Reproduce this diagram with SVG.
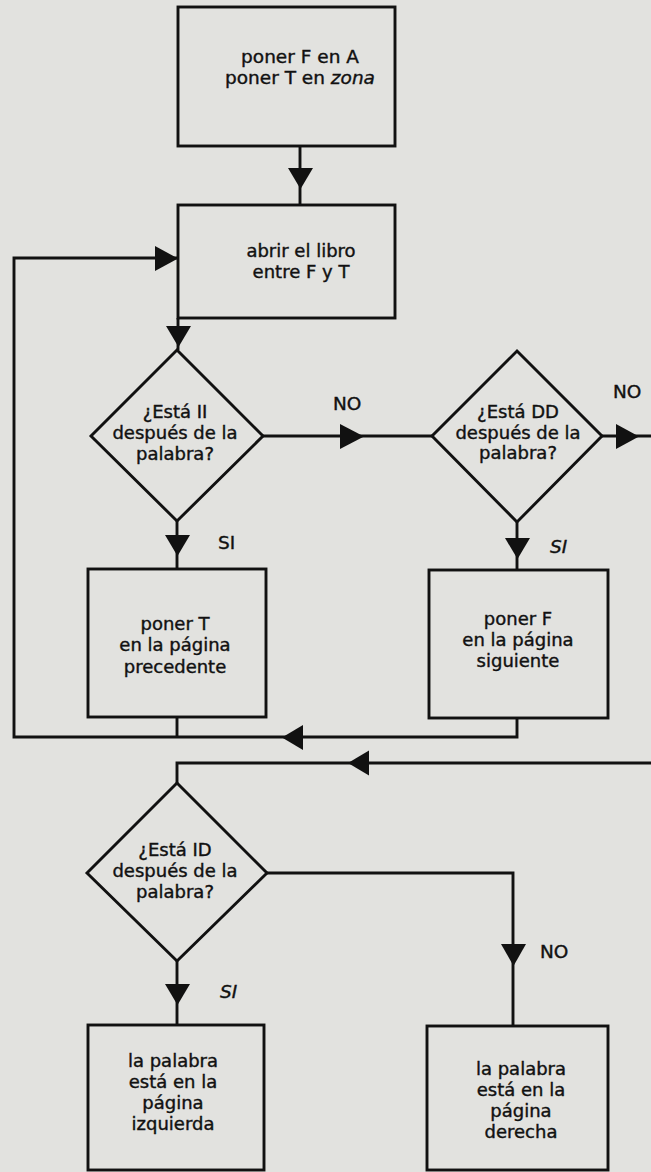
<svg xmlns="http://www.w3.org/2000/svg" width="651" height="1172" viewBox="0 0 651 1172">
<style>
.bg{fill:#e2e2df}
.shape{fill:none;stroke:#111;stroke-width:2.9;stroke-linejoin:miter}
.ln{fill:none;stroke:#111;stroke-width:2.9}
.ah{fill:#111;stroke:none}
text{font-family:"DejaVu Sans","Liberation Sans",sans-serif;fill:#111;stroke:#111;stroke-width:0.4;text-anchor:middle}
.t{font-size:18px}
.t1{font-size:18.5px}
.lbl{font-size:18.5px;text-anchor:start}
.it{font-style:italic}
</style>
<rect class="bg" x="0" y="0" width="651" height="1172"/>

<g id="connectors">
  <line class="ln" x1="300" y1="146" x2="300" y2="205"/>
  <polygon class="ah" points="288,168 313,168 300.5,189"/>
  <line class="ln" x1="178" y1="318" x2="178" y2="350"/>
  <polygon class="ah" points="166,326 191,326 178.5,347"/>
  <line class="ln" x1="262" y1="436" x2="432" y2="436"/>
  <polygon class="ah" points="340,424 340,449 364,436.5"/>
  <line class="ln" x1="602" y1="436" x2="651" y2="436"/>
  <polygon class="ah" points="616,424 616,449 639,436.5"/>
  <line class="ln" x1="177" y1="521" x2="177" y2="569"/>
  <polygon class="ah" points="165,535 190,535 177.5,556"/>
  <line class="ln" x1="517" y1="522" x2="517" y2="570"/>
  <polygon class="ah" points="505,538 530,538 517.5,559"/>
  <polyline class="ln" points="177,717 177,737"/>
  <polyline class="ln" points="517,718 517,737 14,737 14,258 178,258"/>
  <polygon class="ah" points="155,246 155,271 178,258.5"/>
  <polygon class="ah" points="282,737.5 303,725 303,750"/>
  <polyline class="ln" points="651,763 177,763 177,783"/>
  <polygon class="ah" points="348,763 369,750.5 369,775.5"/>
  <line class="ln" x1="177" y1="961" x2="177" y2="1025"/>
  <polygon class="ah" points="165,984 190,984 177.5,1005"/>
  <polyline class="ln" points="267,873 513,873 513,1026"/>
  <polygon class="ah" points="501,944 526,944 513.5,966"/>
</g>

<g id="box1">
  <rect class="shape" x="178" y="7" width="217" height="139"/>
  <text class="t1" x="300" y="63">poner F en A</text>
  <text class="t1" x="300" y="84">poner T en <tspan class="it">zona</tspan></text>
</g>

<g id="box2">
  <rect class="shape" x="178" y="205" width="217" height="113"/>
  <text class="t" x="301" y="257">abrir el libro</text>
  <text class="t" x="301" y="278">entre F y T</text>
</g>

<g id="diamond1">
  <polygon class="shape" points="177,350 263,436 177,521 91,436"/>
  <text class="t" x="175" y="418">¿Está II</text>
  <text class="t" x="175" y="439">después de la</text>
  <text class="t" x="175" y="460">palabra?</text>
</g>

<g id="diamond2">
  <polygon class="shape" points="517,351 602,436 517,522 432,436"/>
  <text class="t" x="518" y="418">¿Está DD</text>
  <text class="t" x="518" y="439">después de la</text>
  <text class="t" x="518" y="459">palabra?</text>
</g>

<g id="labels">
  <text class="lbl" x="333" y="410">NO</text>
  <text class="lbl" x="613" y="398">NO</text>
  <text class="lbl" x="218" y="549">SI</text>
  <text class="lbl it" x="550" y="553">SI</text>
  <text class="lbl it" x="220" y="998">SI</text>
  <text class="lbl" x="540" y="958">NO</text>
</g>

<g id="box3">
  <rect class="shape" x="88" y="569" width="178" height="148"/>
  <text class="t" x="175" y="630">poner T</text>
  <text class="t" x="175" y="651">en la página</text>
  <text class="t" x="175" y="673">precedente</text>
</g>

<g id="box4">
  <rect class="shape" x="429" y="570" width="179" height="148"/>
  <text class="t" x="518" y="625">poner F</text>
  <text class="t" x="518" y="646">en la página</text>
  <text class="t" x="518" y="667">siguiente</text>
</g>

<g id="diamond3">
  <polygon class="shape" points="177,783 267,873 177,961 87,873"/>
  <text class="t" x="175" y="856">¿Está ID</text>
  <text class="t" x="175" y="877">después de la</text>
  <text class="t" x="175" y="898">palabra?</text>
</g>

<g id="box5">
  <rect class="shape" x="88" y="1025" width="176" height="145"/>
  <text class="t" x="173" y="1067">la palabra</text>
  <text class="t" x="173" y="1088">está en la</text>
  <text class="t" x="173" y="1109">página</text>
  <text class="t" x="173" y="1130">izquierda</text>
</g>

<g id="box6">
  <rect class="shape" x="427" y="1026" width="181" height="144"/>
  <text class="t" x="521" y="1075">la palabra</text>
  <text class="t" x="521" y="1096">está en la</text>
  <text class="t" x="521" y="1117">página</text>
  <text class="t" x="521" y="1138">derecha</text>
</g>
</svg>
